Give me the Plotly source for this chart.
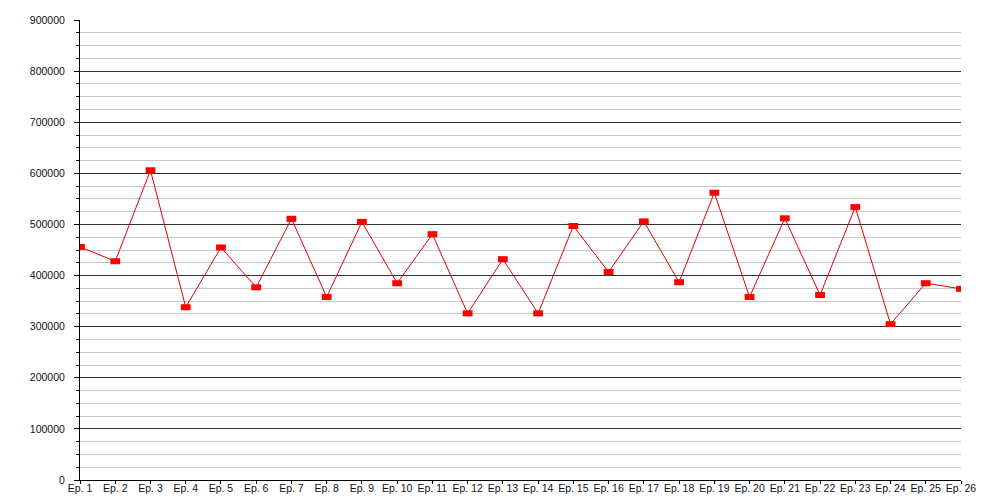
import plotly.graph_objects as go

episodes = [f"Ep. {i}" for i in range(1, 27)]
viewers = [456000, 428000, 606000, 338000, 455000, 377000, 511000, 358000, 505000, 385000,
           481000, 326000, 432000, 326000, 497000, 407000, 506000, 387000, 562000, 358000,
           512000, 362000, 534000, 305000, 385000, 374000]

y_ticks = list(range(0, 900001, 100000))

fig = go.Figure()
fig.add_trace(go.Scatter(
    x=episodes, y=viewers, mode="lines+markers",
    line=dict(color="#e00000", width=1),
    marker=dict(symbol="line-ew", size=7, color="#ff0000",
                line=dict(color="#ff0000", width=6)),
    hoverinfo="x+y", showlegend=False,
))

# page body has an 8px offset, margins compensate for it
fig.update_layout(
    width=1000, height=500,
    margin=dict(l=72, r=47, t=12, b=28),
    paper_bgcolor="white", plot_bgcolor="white",
    font=dict(family="Liberation Sans, Arial, sans-serif", size=10, color="#111"),
    xaxis=dict(
        type="category", range=[0, 25], showgrid=False, automargin=False,
        showline=True, linecolor="black", linewidth=1,
        ticks="outside", ticklen=3, tickcolor="black",
        ticklabelstandoff=-5,
        zeroline=False, tickfont=dict(size=10.5),
    ),
    yaxis=dict(
        range=[0, 900000], tickvals=y_ticks, ticktext=[str(v) for v in y_ticks],
        automargin=False,
        showgrid=True, gridcolor="#333333", gridwidth=1,
        showline=True, linecolor="black", linewidth=1,
        ticks="outside", ticklen=5, tickcolor="black",
        ticklabelstandoff=7,
        zeroline=False,
        minor=dict(dtick=25000, tick0=0, showgrid=True, gridcolor="#c8c8c8",
                   gridwidth=1, ticks="outside", ticklen=3, tickcolor="black"),
        tickfont=dict(size=10.5),
    ),
)

fig.write_html("out.html")
